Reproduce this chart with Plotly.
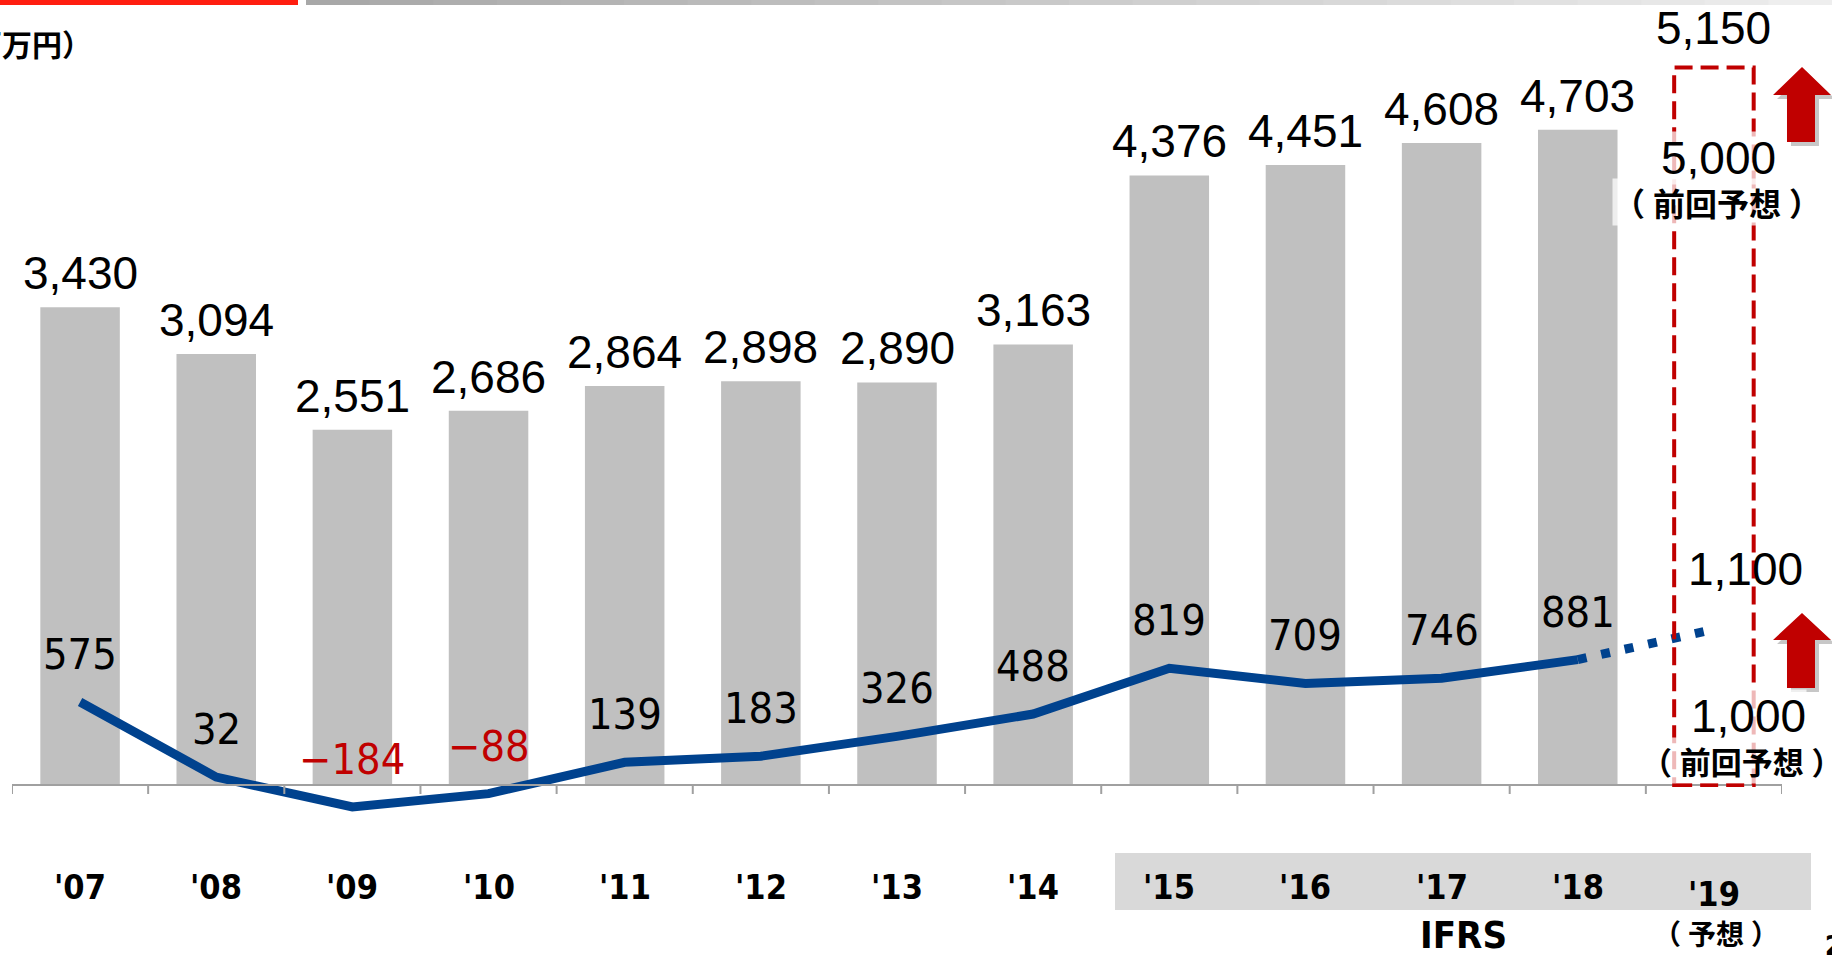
import plotly.graph_objects as go

# ---------------- data ----------------
years = ["'07", "'08", "'09", "'10", "'11", "'12", "'13", "'14", "'15", "'16", "'17", "'18", "'19"]
sales = [3430, 3094, 2551, 2686, 2864, 2898, 2890, 3163, 4376, 4451, 4608, 4703]
profit = [575, 32, -184, -88, 139, 183, 326, 488, 819, 709, 746, 881]
sales_forecast = 5150
sales_prev_forecast = 5000
profit_forecast = 1100
profit_prev_forecast = 1000
unit_label = "（百万円）"
prev_label = "（前回予想）"
forecast_label = "（予想）"
ifrs_label = "IFRS"

# ---------------- geometry helpers (page pixels -> paper) ----------------
W, H = 1832, 955
L, R, T, B = 12, 50, 0, 125
PW, PH = W - L - R, H - T - B


def px(x):
    return (x - L) / PW


def py(y):
    return (T + PH - y) / PH


BARGAP = 0.416
BAR_W = 1 - BARGAP
NARROW = "Liberation Sans Narrow, Arial Narrow, DejaVu Sans Condensed, Liberation Sans, sans-serif"
REG = "Liberation Sans, Arial, sans-serif"
CJK = "Noto Sans CJK JP, Noto Sans CJK SC, sans-serif"
BLUE = "#00428e"
RED = "#c00000"

n_hist = len(sales)
xi = list(range(n_hist))
i_fc = len(years) - 1

fig = go.Figure()
fig.add_trace(go.Bar(x=xi, y=sales, marker=dict(color="#c0c0c0", line=dict(width=0)),
                     yaxis="y", hoverinfo="skip"))
fig.add_trace(go.Scatter(x=[xi[-1], i_fc], y=[profit[-1], profit_forecast], mode="lines",
                         line=dict(color=BLUE, width=9, dash="9px,15px"), yaxis="y2", hoverinfo="skip"))
fig.add_trace(go.Scatter(x=xi, y=profit, mode="lines",
                         line=dict(color=BLUE, width=9), yaxis="y2", hoverinfo="skip"))

shapes = []
ann = []

# axis line and ticks
shapes.append(dict(type="line", xref="x", yref="y", x0=-0.5, x1=len(years) - 0.5, y0=0, y1=0,
                   line=dict(color="#a0a0a0", width=2)))
for k in range(len(years) + 1):
    shapes.append(dict(type="line", xref="x", yref="y", ysizemode="pixel", yanchor=0,
                       x0=k - 0.5, x1=k - 0.5, y0=0, y1=-9, line=dict(color="#a0a0a0", width=2)))

# forecast dashed box (bar outline)
shapes.append(dict(type="rect", xref="x", yref="y", x0=i_fc - BAR_W / 2, x1=i_fc + BAR_W / 2,
                   y0=0, y1=sales_forecast, line=dict(color=RED, width=4, dash="18px,8px"),
                   fillcolor="rgba(0,0,0,0)", layer="above"))

# IFRS band
shapes.append(dict(type="rect", xref="paper", yref="paper", x0=px(1115), x1=px(1811),
                   y0=py(910), y1=py(853), fillcolor="#d9d9d9", line=dict(width=0), layer="below"))

# header bars
shapes.append(dict(type="rect", xref="paper", yref="paper", x0=px(0), x1=px(298), y0=py(5), y1=py(0),
                   fillcolor="#ff1e10", line=dict(width=0)))
nseg = 24
for s in range(nseg):
    x0 = 306 + (W - 306) * s / nseg
    x1 = 306 + (W - 306) * (s + 1) / nseg + 1
    g = int(168 + (238 - 168) * s / (nseg - 1))
    shapes.append(dict(type="rect", xref="paper", yref="paper", x0=px(x0), x1=px(x1), y0=py(5), y1=py(0),
                       fillcolor=f"rgb({g},{g},{g})", line=dict(width=0)))


def arrow_path(tip_y, base_y, bot_y, dx=0, dy=0):
    pts = [(1802, tip_y), (1831, base_y), (1815, base_y), (1815, bot_y), (1787, bot_y), (1787, base_y),
           (1773, base_y)]
    return "M " + " L ".join(f"{px(a + dx):.5f},{py(b + dy):.5f}" for a, b in pts) + " Z"


for tip, base, bot in [(67, 95, 142), (613, 640, 688)]:
    shapes.append(dict(type="path", xref="paper", yref="paper", path=arrow_path(tip, base, bot, 4, 4),
                       fillcolor="rgba(0,0,0,0.22)", line=dict(width=0)))
    shapes.append(dict(type="path", xref="paper", yref="paper", path=arrow_path(tip, base, bot),
                       fillcolor=RED, line=dict(width=0)))


def page_text(x, y, text, family, size, color="black", xanchor="center", bg=None):
    d = dict(x=px(x), y=py(y), xref="paper", yref="paper", text=text, showarrow=False,
             xanchor=xanchor, yanchor="middle", font=dict(family=family, size=size, color=color))
    if bg:
        d.update(bgcolor=bg, borderpad=0)
    return d


def cjk_paren(s):
    # widen the spacing just inside full-width parentheses
    return s.replace("（", "（\u2005").replace("）", "\u2005）")


# bar labels
for i, v in enumerate(sales):
    ann.append(dict(x=i, y=v, xref="x", yref="y", text=f"{v:,}", showarrow=False, xanchor="center",
                    yanchor="middle", yshift=34, font=dict(family=REG, size=46, color="black")))
ann.append(dict(x=i_fc, y=sales_forecast, xref="x", yref="y", text=f"{sales_forecast:,}", showarrow=False,
                xanchor="center", yanchor="middle", yshift=40, font=dict(family=REG, size=46, color="black")))

# line labels
for i, v in enumerate(profit):
    txt = f"{v:,}" if v >= 0 else f"\u2212{abs(v):,}"
    ann.append(dict(x=i, y=v, xref="x", yref="y2", text=txt, showarrow=False, xanchor="center",
                    yanchor="middle", yshift=48,
                    font=dict(family=NARROW, size=43, color=RED if v < 0 else "black")))

# forecast column labels
WBG = "rgba(255,255,255,0.72)"
ann.append(page_text(1718, 158, f"{sales_prev_forecast:,}", REG, 46, bg=WBG))
ann.append(page_text(1717, 202, f"<b>{cjk_paren(prev_label)}</b>", CJK, 32, bg=WBG))
ann.append(page_text(1745, 569, f"{profit_forecast:,}", REG, 46))
ann.append(page_text(1748, 716, f"{profit_prev_forecast:,}", REG, 46, bg=WBG))
ann.append(page_text(1742, 760, f"<b>{cjk_paren(prev_label)}</b>", CJK, 31, bg=WBG))

# x tick labels
for i, lab in enumerate(years):
    yc = 894 if i == i_fc else 887
    ann.append(dict(x=i, y=py(yc), xref="x", yref="paper", text=f"<b>{lab}</b>", showarrow=False,
                    xanchor="center", yanchor="middle", font=dict(family=NARROW, size=34, color="black")))
ann.append(page_text(1716, 933, f"<b>{cjk_paren(forecast_label)}</b>", CJK, 28))
ann.append(page_text(1463, 935, f"<b>{ifrs_label}</b>", NARROW, 38))

# unit label (cut at left edge) and page number
ann.append(page_text(94, 43, f"<b>{unit_label}</b>", CJK, 30, xanchor="right"))
ann.append(page_text(1823, 946, "<b>2</b>", NARROW, 26, xanchor="left"))

k_bar = 0.1393
k_line = 0.1383
zero_bar = 785
zero_line = 781.5

fig.update_layout(
    width=W, height=H,
    margin=dict(l=L, r=R, t=T, b=B),
    paper_bgcolor="white", plot_bgcolor="white",
    showlegend=False, bargap=BARGAP, hovermode=False,
    xaxis=dict(range=[-0.5, len(years) - 0.5], visible=False),
    yaxis=dict(range=[-(PH - zero_bar) / k_bar, zero_bar / k_bar], visible=False),
    yaxis2=dict(range=[-(PH - zero_line) / k_line, zero_line / k_line], visible=False,
                overlaying="y"),
    shapes=shapes, annotations=ann,
)

fig.write_html("out.html")
